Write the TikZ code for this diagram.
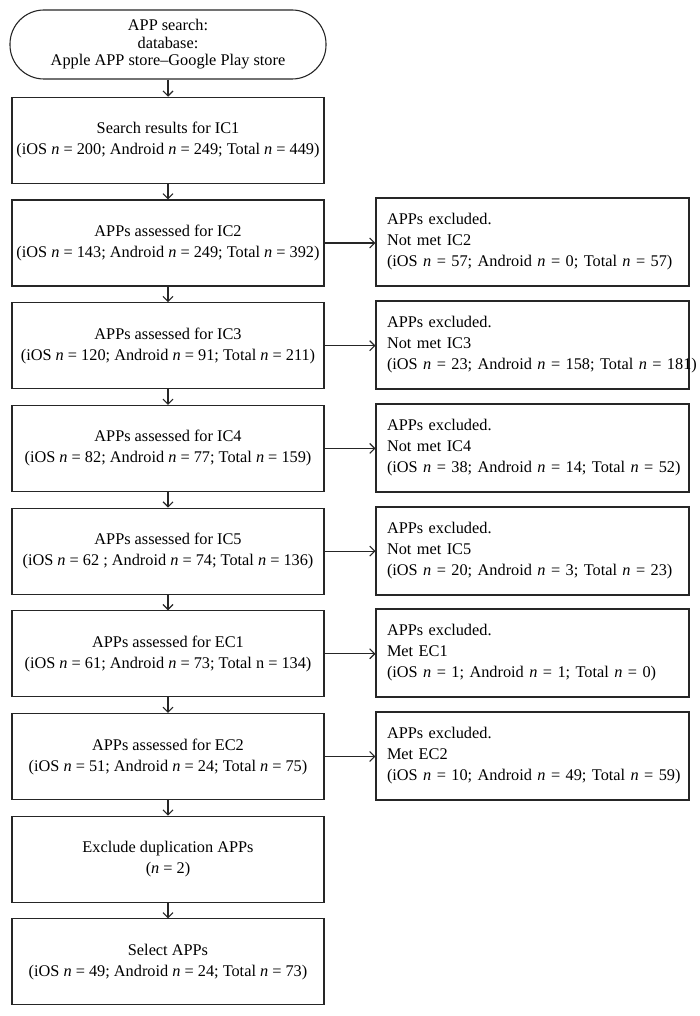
\documentclass[tikz,border=0pt]{standalone}
\usepackage{fontspec}
\setmainfont{Liberation Serif}
\usetikzlibrary{arrows.meta}
\newcommand{\nn}{\textit{n}}

\begin{document}
\begin{tikzpicture}[x=1pt,y=-1pt,line width=1.1pt,draw=black!85,
   >={Straight Barb[length=5pt,width=10pt]},
   every node/.style={font=\fontsize{16.3}{21}\selectfont},
   start/.style={draw,rounded corners=34pt,minimum width=316pt,minimum height=69pt,align=center,
      font=\fontsize{16.3}{17.5}\selectfont},
   stepbox/.style={draw,minimum width=312pt,minimum height=86pt,inner xsep=1pt,align=center},
   outbox/.style={draw,text width=291pt,minimum height=88pt,inner xsep=11pt,align=left}]
   \useasboundingbox (0,0) rectangle (700,1016);

   \node[start] (top) at (168,44.5) {APP search:\\database:\\Apple APP store--Google Play store};

   \node[stepbox] (b1) at (168,140.3) {Search results for IC1\\(iOS \nn{} = 200; Android \nn{} = 249; Total \nn{} = 449)};
   \node[stepbox] (b2) at (168,243) {APPs assessed for IC2\\(iOS \nn{} = 143; Android \nn{} = 249; Total \nn{} = 392)};
   \node[stepbox] (b3) at (168,345.7) {APPs assessed for IC3\\(iOS \nn{} = 120; Android \nn{} = 91; Total \nn{} = 211)};
   \node[stepbox] (b4) at (168,448.4) {APPs assessed for IC4\\(iOS \nn{} = 82; Android \nn{} = 77; Total \nn{} = 159)};
   \node[stepbox] (b5) at (168,551.1) {APPs assessed for IC5\\(iOS \nn{} = 62 ; Android \nn{} = 74; Total \nn{} = 136)};
   \node[stepbox] (b6) at (168,653.8) {APPs assessed for EC1\\(iOS \nn{} = 61; Android \nn{} = 73; Total n = 134)};
   \node[stepbox] (b7) at (168,756.5) {APPs assessed for EC2\\(iOS \nn{} = 51; Android \nn{} = 24; Total \nn{} = 75)};
   \node[stepbox] (b8) at (168,859.2) {Exclude duplication APPs\\(\nn{} = 2)};
   \node[stepbox] (b9) at (168,961.9) {Select APPs\\(iOS \nn{} = 49; Android \nn{} = 24; Total \nn{} = 73)};

   \node[outbox] (x2) at (532.5,242) {APPs excluded.\\Not met IC2\\\mbox{(iOS \nn{} = 57; Android \nn{} = 0; Total \nn{} = 57)}};
   \node[outbox] (x3) at (532.5,345) {APPs excluded.\\Not met IC3\\\mbox{(iOS \nn{} = 23; Android \nn{} = 158; Total \nn{} = 181)}};
   \node[outbox] (x4) at (532.5,448) {APPs excluded.\\Not met IC4\\\mbox{(iOS \nn{} = 38; Android \nn{} = 14; Total \nn{} = 52)}};
   \node[outbox] (x5) at (532.5,551) {APPs excluded.\\Not met IC5\\\mbox{(iOS \nn{} = 20; Android \nn{} = 3; Total \nn{} = 23)}};
   \node[outbox] (x6) at (532.5,653) {APPs excluded.\\Met EC1\\\mbox{(iOS \nn{} = 1; Android \nn{} = 1; Total \nn{} = 0)}};
   \node[outbox] (x7) at (532.5,756) {APPs excluded.\\Met EC2\\\mbox{(iOS \nn{} = 10; Android \nn{} = 49; Total \nn{} = 59)}};

   \draw[->] (top) -- (b1);
   \draw[->] (b1) -- (b2);
   \draw[->] (b2) -- (b3);
   \draw[->] (b3) -- (b4);
   \draw[->] (b4) -- (b5);
   \draw[->] (b5) -- (b6);
   \draw[->] (b6) -- (b7);
   \draw[->] (b7) -- (b8);
   \draw[->] (b8) -- (b9);

   \draw[->] (b2.east) -- (b2.east -| x2.west);
   \draw[->] (b3.east) -- (b3.east -| x3.west);
   \draw[->] (b4.east) -- (b4.east -| x4.west);
   \draw[->] (b5.east) -- (b5.east -| x5.west);
   \draw[->] (b6.east) -- (b6.east -| x6.west);
   \draw[->] (b7.east) -- (b7.east -| x7.west);
\end{tikzpicture}
\end{document}
